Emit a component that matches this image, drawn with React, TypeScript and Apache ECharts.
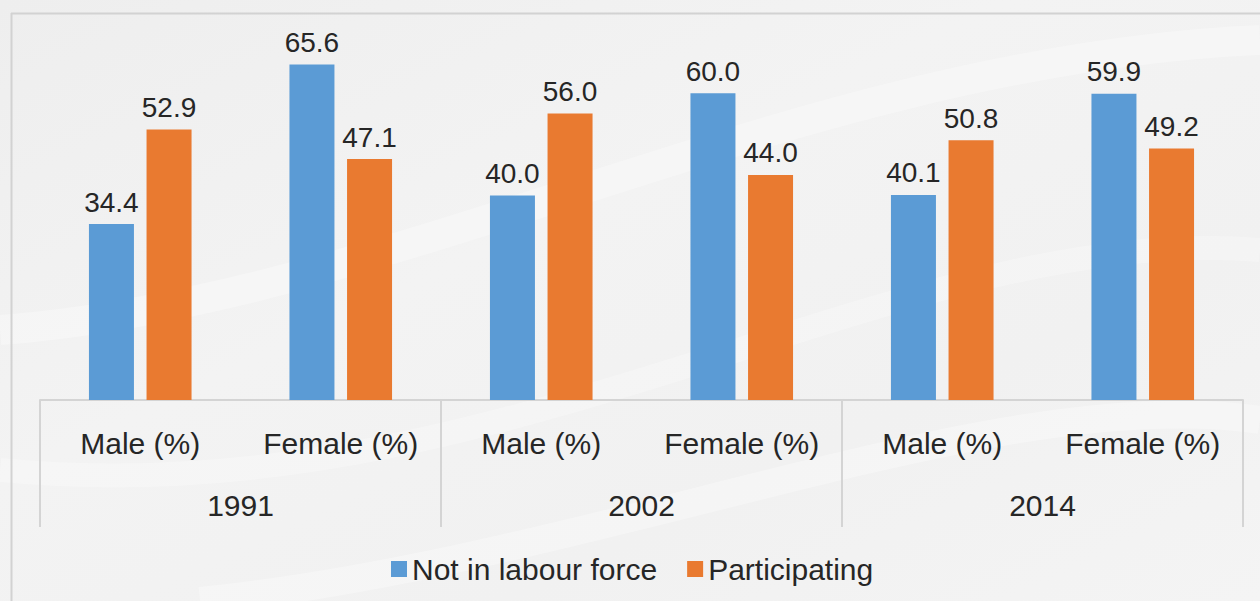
import React, { useEffect, useRef } from "react";
import * as echarts from "echarts";

const subCategories = ["Male (%)", "Female (%)", "Male (%)", "Female (%)", "Male (%)", "Female (%)"];
const years = ["1991", "2002", "2014"];
const notInLabourForce = [34.4, 65.6, 40.0, 60.0, 40.1, 59.9];
const participating = [52.9, 47.1, 56.0, 44.0, 50.8, 49.2];
const seriesNames = ["Not in labour force", "Participating"];

const FONT = "'Liberation Sans', Arial, sans-serif";
const TEXT = "#262626";

export default function App() {
  const ref = useRef<HTMLDivElement>(null);
  useEffect(() => {
    if (!ref.current) return;
    const chart = echarts.init(ref.current, undefined, { renderer: "svg" });
    const label = {
      show: true,
      position: "top",
      distance: 8,
      color: TEXT,
      fontSize: 28,
      fontFamily: FONT,
      formatter: (p: any) => Number(p.value).toFixed(1),
    };
    chart.setOption({
      animation: false,
      backgroundColor: {
        type: "linear",
        x: 0,
        y: 0,
        x2: 1,
        y2: 1,
        colorStops: [
          { offset: 0, color: "#eeeeee" },
          { offset: 0.4, color: "#f3f3f3" },
          { offset: 0.7, color: "#f1f1f1" },
          { offset: 1, color: "#f4f4f4" },
        ],
      },
      textStyle: { fontFamily: FONT },
      graphic: [
        {
          type: "bezierCurve",
          silent: true,
          shape: { x1: 0, y1: 330, x2: 1260, y2: 40, cpx1: 400, cpy1: 300, cpx2: 800, cpy2: 60 },
          style: { stroke: "rgba(255,255,255,0.3)", lineWidth: 30, fill: "none" },
          z: -10,
        },
        {
          type: "bezierCurve",
          silent: true,
          shape: { x1: 0, y1: 470, x2: 1260, y2: 250, cpx1: 500, cpy1: 520, cpx2: 900, cpy2: 220 },
          style: { stroke: "rgba(255,255,255,0.25)", lineWidth: 24, fill: "none" },
          z: -10,
        },
        {
          type: "bezierCurve",
          silent: true,
          shape: { x1: 200, y1: 601, x2: 1260, y2: 420, cpx1: 600, cpy1: 560, cpx2: 1000, cpy2: 380 },
          style: { stroke: "rgba(255,255,255,0.3)", lineWidth: 28, fill: "none" },
          z: -10,
        },
        {
          type: "line",
          silent: true,
          shape: { x1: 11, y1: 13.5, x2: 1260, y2: 13.5 },
          style: { stroke: "#d2d2d2", lineWidth: 2 },
        },
        {
          type: "line",
          silent: true,
          shape: { x1: 11.5, y1: 13, x2: 11.5, y2: 601 },
          style: { stroke: "#d2d2d2", lineWidth: 2 },
        },
      ],
      grid: { left: 40, right: 17, top: 42, bottom: 201, containLabel: false },
      legend: {
        data: seriesNames,
        left: 386,
        top: 549,
        icon: "rect",
        itemWidth: 16,
        itemHeight: 16,
        itemGap: 30,
        textStyle: { color: TEXT, fontSize: 30, fontFamily: FONT },
      },
      xAxis: [
        {
          type: "category",
          data: subCategories,
          position: "bottom",
          axisLine: { show: true, lineStyle: { color: "#d4d4d4", width: 2 } },
          axisTick: { show: false },
          axisLabel: { color: TEXT, fontSize: 30, fontFamily: FONT, margin: 28, interval: 0 },
        },
        {
          type: "category",
          data: years,
          position: "bottom",
          axisLine: { show: false },
          axisTick: { show: true, length: 127, interval: 0, lineStyle: { color: "#d4d4d4", width: 2 } },
          axisLabel: { color: TEXT, fontSize: 30, fontFamily: FONT, margin: 90, interval: 0 },
        },
      ],
      yAxis: {
        type: "value",
        min: 0,
        max: 70,
        show: false,
        splitLine: { show: false },
      },
      series: [
        {
          name: seriesNames[0],
          type: "bar",
          xAxisIndex: 0,
          data: notInLabourForce,
          barWidth: 45,
          barGap: "28%",
          itemStyle: { color: "#5B9BD5" },
          label,
        },
        {
          name: seriesNames[1],
          type: "bar",
          xAxisIndex: 0,
          data: participating,
          barWidth: 45,
          barGap: "28%",
          itemStyle: { color: "#E97A30" },
          label,
        },
      ],
    });
    return () => chart.dispose();
  }, []);
  return (
    <div
      ref={ref}
      style={{ position: "fixed", left: 0, top: 0, width: 1260, height: 601 }}
    />
  );
}
